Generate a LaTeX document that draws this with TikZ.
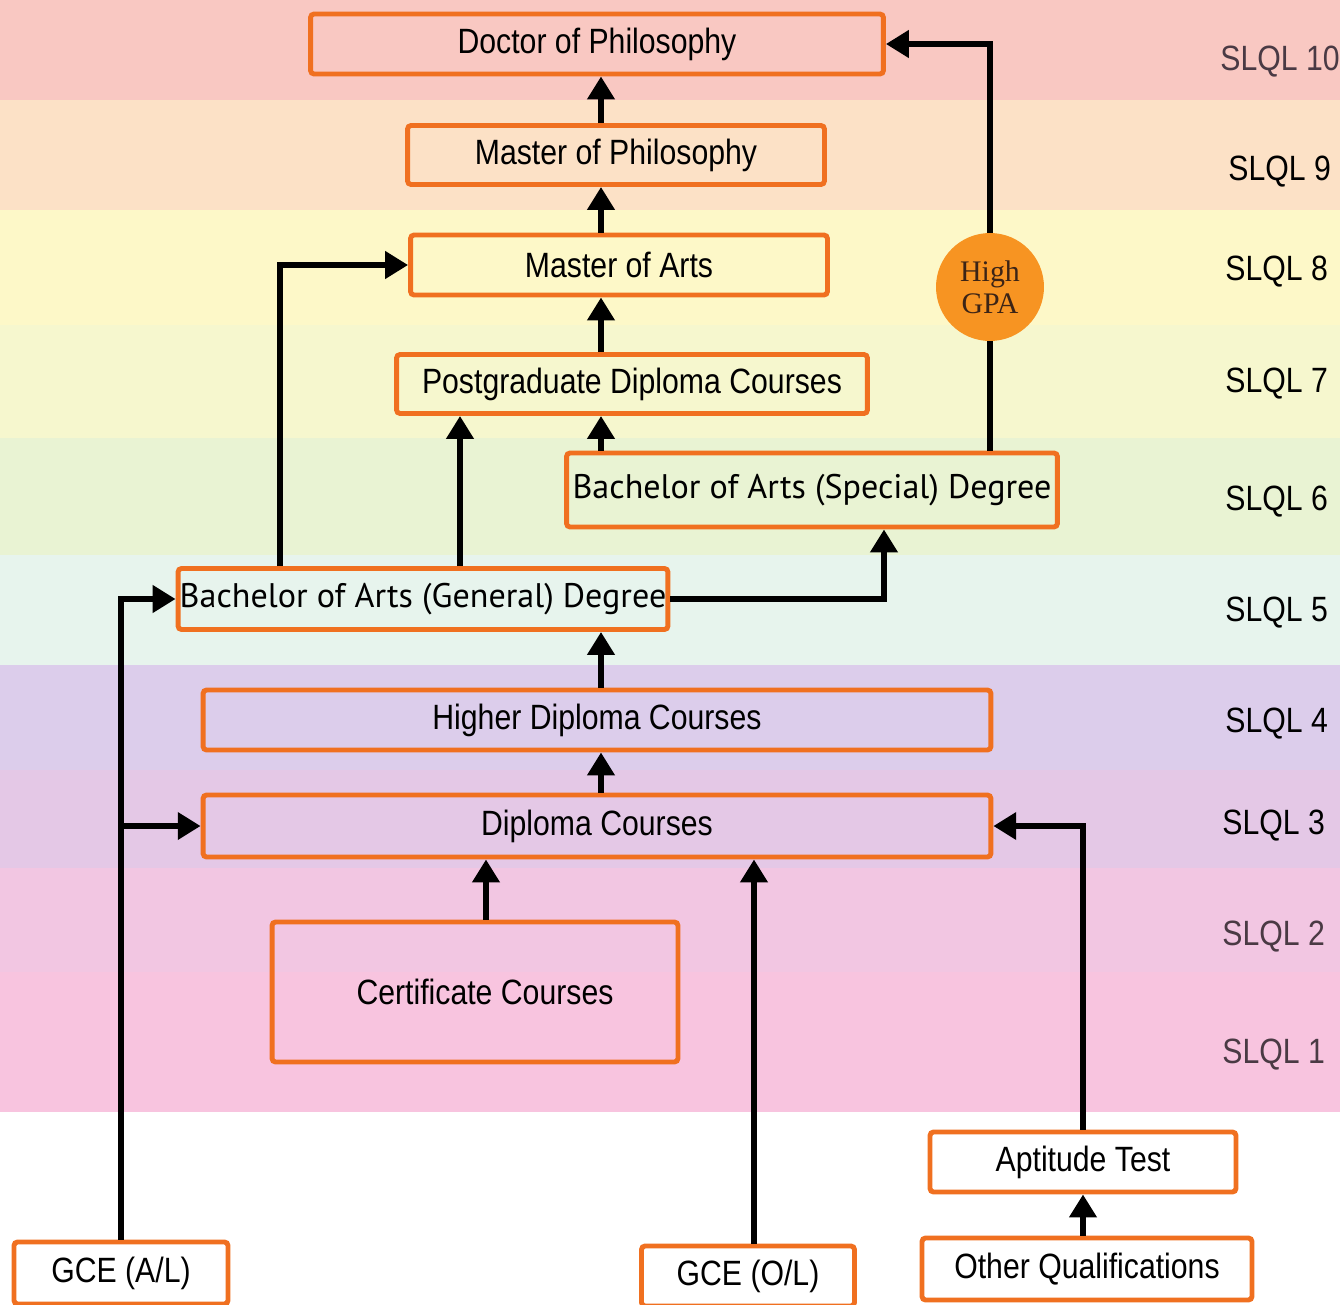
\documentclass[tikz,border=0pt]{standalone}
\usepackage{fontspec}
\setmainfont[FakeStretch=0.86]{Liberation Sans}
\newfontfamily\bafont{PT Sans}
\newfontfamily\gpafont{Liberation Serif}
\usetikzlibrary{arrows.meta}

\definecolor{boxorange}{RGB}{240,112,32}
\definecolor{gpaorange}{RGB}{247,148,34}
\definecolor{gpatext}{RGB}{60,36,22}
\definecolor{lvlgrey}{RGB}{74,58,68}
\definecolor{band10}{RGB}{249,200,194}
\definecolor{band9}{RGB}{252,225,198}
\definecolor{band8}{RGB}{253,248,200}
\definecolor{band7}{RGB}{246,247,206}
\definecolor{band6}{RGB}{233,243,211}
\definecolor{band5}{RGB}{231,244,237}
\definecolor{band4}{RGB}{220,205,235}
\definecolor{band3}{RGB}{228,200,230}
\definecolor{band2}{RGB}{242,198,226}
\definecolor{band1}{RGB}{248,196,223}

\begin{document}
\begin{tikzpicture}[x=0.02cm, y=-0.02cm,
	qbox/.style={draw=boxorange, line width=2.8pt, rounded corners=2pt, inner sep=0pt,
		font=\fontsize{20}{24}\selectfont},
	babox/.style={qbox, font=\bafont\fontsize{19.4}{22}\selectfont},
	lvl/.style={anchor=west, inner sep=0pt, font=\fontsize{20}{24}\selectfont},
	arr/.style={line width=3.6pt, -{Triangle[width=15pt,length=13pt]}},
	ln/.style={line width=3.6pt}]
			\clip (0,0) rectangle (1340,1305);
			\fill[white] (0,0) rectangle (1340,1305);
			% level bands
			\fill[band10] (0,0) rectangle (1340,100);
			\fill[band9] (0,100) rectangle (1340,210);
			\fill[band8] (0,210) rectangle (1340,325);
			\fill[band7] (0,325) rectangle (1340,438);
			\fill[band6] (0,438) rectangle (1340,555);
			\fill[band5] (0,555) rectangle (1340,665);
			\fill[band4] (0,665) rectangle (1340,770);
			\fill[band3] (0,770) rectangle (1340,868);
			\fill[band2] (0,868) rectangle (1340,972);
			\fill[band1] (0,972) rectangle (1340,1112);
			
			\node[lvl, lvlgrey] (l10) at (1220, 62) {SLQL 10};
			\node[lvl] (l9) at (1228, 172) {SLQL 9};
			\node[lvl] (l8) at (1225, 272) {SLQL 8};
			\node[lvl] (l7) at (1225, 384) {SLQL 7};
			\node[lvl] (l6) at (1225, 502) {SLQL 6};
			\node[lvl] (l5) at (1225, 613) {SLQL 5};
			\node[lvl] (l4) at (1225, 724) {SLQL 4};
			\node[lvl] (l3) at (1222, 826) {SLQL 3};
			\node[lvl, lvlgrey] (l2) at (1222, 937) {SLQL 2};
			\node[lvl, lvlgrey] (l1) at (1222, 1055) {SLQL 1};
			
			% qualifications
			\node[qbox, minimum width=11.46cm, minimum height=1.2cm] (phd) at (597, 44) {Doctor of Philosophy};
			\node[qbox, minimum width=8.34cm, minimum height=1.18cm] (mphil) at (616, 155) {Master of Philosophy};
			\node[qbox, minimum width=8.34cm, minimum height=1.2cm] (ma) at (619, 265) {Master of Arts};
			\node[qbox, minimum width=9.42cm, minimum height=1.18cm] (pgd) at (632, 384) {Postgraduate Diploma Courses};
			\node[babox, minimum width=9.82cm, minimum height=1.48cm] (bas) at (812, 490) {Bachelor of Arts (Special) Degree};
			\node[babox, minimum width=9.8cm, minimum height=1.22cm] (bag) at (423, 599) {Bachelor of Arts (General) Degree};
			\node[qbox, minimum width=15.76cm, minimum height=1.2cm] (hdc) at (597, 720) {Higher Diploma Courses};
			\node[qbox, minimum width=15.76cm, minimum height=1.24cm] (dip) at (597, 826) {Diploma Courses};
			\node[qbox, minimum width=8.12cm, minimum height=2.8cm] (cert) at (475, 992) {\hspace{0.4cm}Certificate Courses};
			\node[qbox, minimum width=6.12cm, minimum height=1.2cm] (apt) at (1083, 1162) {Aptitude Test\hspace{0.28cm}};
			\node[qbox, minimum width=6.6cm, minimum height=1.24cm] (oth) at (1087, 1269) {Other Qualifications};
			\node[qbox, minimum width=4.28cm, minimum height=1.24cm] (gcea) at (121, 1273) {GCE (A/L)};
			\node[qbox, minimum width=4.26cm, minimum height=1.2cm] (gceo) at (748, 1276) {GCE (O/L)};
			\node[circle, fill=gpaorange, minimum size=2.16cm, inner sep=0pt, align=center,
				font=\gpafont\fontsize{17}{18}\selectfont, text=gpatext] (gpa) at (990, 287) {High\\GPA};
			
			\coordinate (spine) at (601, 0);
			\coordinate (pgdin) at (460, 0);
			\coordinate (mafeed) at (280, 0);
			\coordinate (basin) at (884, 0);
			\coordinate (certout) at (486, 0);
			\coordinate (olin) at (754, 0);
			
			% upward steps
			\draw[arr] (mphil.north -| spine) -- (phd.south -| spine);
			\draw[arr] (ma.north -| spine) -- (mphil.south -| spine);
			\draw[arr] (pgd.north -| spine) -- (ma.south -| spine);
			\draw[arr] (bas.north -| spine) -- (pgd.south -| spine);
			\draw[arr] (bag.north -| pgdin) -- (pgd.south -| pgdin);
			\draw[arr] (bag.north -| mafeed) |- (ma.west);
			\draw[arr] (bag.east) -| (bas.south -| basin);
			\draw[ln] (bas.north -| gpa) -- (gpa.south);
			\draw[arr] (gpa.north) |- (phd.east);
			\draw[arr] (hdc.north -| spine) -- (bag.south -| spine);
			\draw[arr] (dip.north -| spine) -- (hdc.south -| spine);
			\draw[arr] (cert.north -| certout) -- (dip.south -| certout);
			
			% entry routes
			\draw[arr] (gceo.north -| olin) -- (dip.south -| olin);
			\draw[arr] (gcea.north) |- (bag.west);
			\draw[arr] (gcea.north |- dip.west) -- (dip.west);
			\draw[arr] (apt.north) |- (dip.east);
			\draw[arr] (oth.north -| apt.north) -- (apt.south);
			
		\end{tikzpicture}
\end{document}
